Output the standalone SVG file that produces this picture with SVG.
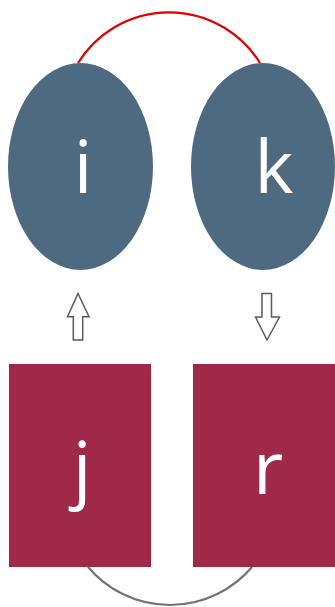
<svg xmlns="http://www.w3.org/2000/svg" width="335" height="607" viewBox="0 0 335 607">
<style>
.ell{fill:#4E6A81}
.box{fill:#A0294A}
.lbl{font-family:"Open Sans","Noto Sans",sans-serif;font-size:74px;fill:#FFFFFF;text-anchor:middle}
.arr{fill:#FFFFFF;stroke:#5A5A5A;stroke-width:1.5;stroke-linejoin:miter}
</style>
<rect width="335" height="607" fill="#FFFFFF"/>
<g id="connectors">
<path d="M78,63 A107,107 0 0 1 260,63" fill="none" stroke="#E00000" stroke-width="2.2"/>
<path d="M88,567 A107.5,107.5 0 0 0 252,567" fill="none" stroke="#737373" stroke-width="2.2"/>
<path class="arr" d="M78,293.5 L89,316.7 L82.7,316.7 L82.7,340 L73.3,340 L73.3,316.7 L67.5,316.7 Z"/>
<path class="arr" d="M262,293.5 L271.5,293.5 L271.5,317 L279.5,317 L267,340 L255.5,317 L262,317 Z"/>
</g>
<g id="node-i">
<ellipse class="ell" cx="80.5" cy="166.5" rx="72.5" ry="103.5"/>
<text class="lbl" x="83" y="193">i</text>
</g>
<g id="node-k">
<ellipse class="ell" cx="263" cy="166.5" rx="72" ry="103.5"/>
<text class="lbl" x="274" y="193">k</text>
</g>
<g id="node-j">
<rect class="box" x="9" y="364" width="142" height="203"/>
<text class="lbl" x="82" y="494">j</text>
</g>
<g id="node-r">
<rect class="box" x="193" y="364" width="142" height="203"/>
<text class="lbl" x="268" y="494">r</text>
</g>
</svg>
